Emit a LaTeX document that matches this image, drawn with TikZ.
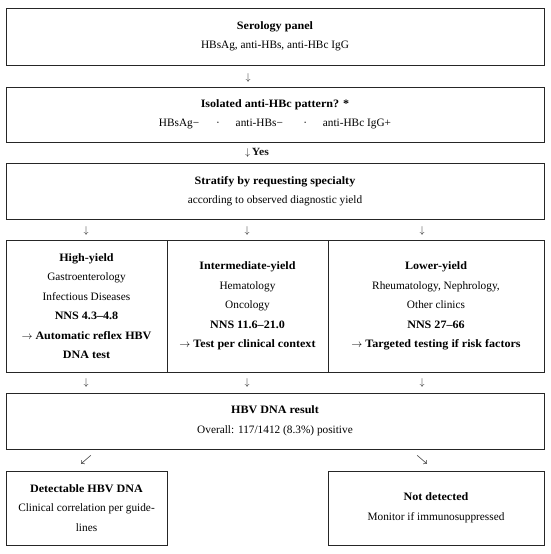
\documentclass[tikz,border=0pt]{standalone}
\usepackage{fontspec}
\setmainfont{Liberation Serif}[BoldFeatures={FakeStretch=1.07}]
\newcommand{\bsw}{\mbox{\boldmath$\swarrow$}}
\newcommand{\bse}{\mbox{\boldmath$\searrow$}}
\begin{document}
\begin{tikzpicture}[x=1pt,y=-1pt,
  box/.style={draw=black!85, line width=0.8pt, align=center, inner sep=0pt,
    font={\fontsize{11.3pt}{19.5pt}\selectfont}},
  glyph/.style={inner sep=0pt, text=black!90, font={\fontsize{10pt}{12pt}\selectfont}}]
\useasboundingbox[fill=white] (0,0) rectangle (550,554);
\node[box, minimum width=538pt, minimum height=57pt] (serol) at (275,36.5)
  {\textbf{Serology panel}\\HBsAg, anti-HBs, anti-HBc IgG};
\node[glyph] (a1) at (248,78) {$\downarrow$};
\node[box, minimum width=538pt, minimum height=55pt] (iso) at (275,114.5)
  {\textbf{Isolated anti-HBc pattern? *}\\HBsAg−\hspace{1.5em}·\hspace{1.4em}anti-HBs−\hspace{1.8em}·\hspace{1.4em}anti-HBc IgG+};
\node[glyph, anchor=west] (a2) at (245,153) {$\downarrow$\,\textbf{\fontsize{11pt}{12pt}\selectfont Yes}};
\node[box, minimum width=538pt, minimum height=56pt] (strat) at (275,191)
  {\textbf{Stratify by requesting specialty}\\according to observed diagnostic yield};
\node[glyph] (a3) at (86,231) {$\downarrow$};
\node[glyph] (a4) at (247,231) {$\downarrow$};
\node[glyph] (a5) at (422,231) {$\downarrow$};
\node[box, minimum width=161pt, minimum height=132pt] (high) at (86.5,306)
  {\textbf{High-yield}\\Gastroenterology\\Infectious Diseases\\\textbf{NNS 4.3–4.8}\\\textbf{$\rightarrow$ Automatic reflex HBV}\\\textbf{DNA test}};
\node[box, minimum width=161pt, minimum height=132pt] (inter) at (247.5,306)
  {\textbf{Intermediate-yield}\\Hematology\\Oncology\\\textbf{NNS 11.6–21.0}\\\textbf{$\rightarrow$ Test per clinical context}};
\node[box, minimum width=216pt, minimum height=132pt] (low) at (436,306)
  {\textbf{Lower-yield}\\Rheumatology, Nephrology,\\Other clinics\\\textbf{NNS 27–66}\\\textbf{$\rightarrow$ Targeted testing if risk factors}};
\node[glyph] (a6) at (86,383) {$\downarrow$};
\node[glyph] (a7) at (247,383) {$\downarrow$};
\node[glyph] (a8) at (422,383) {$\downarrow$};
\node[box, minimum width=538pt, minimum height=56pt] (dna) at (275,421)
  {\textbf{HBV DNA result}\\Overall: 117/1412 (8.3\%) positive};
\node[glyph] (a9) at (86,460) {\bsw};
\node[glyph] (a10) at (422,460) {\bse};
\node[box, minimum width=161pt, minimum height=74pt] (det) at (86.5,508)
  {\textbf{Detectable HBV DNA}\\Clinical correlation per guide-\\lines};
\node[box, minimum width=216pt, minimum height=74pt] (notd) at (436,508)
  {\textbf{Not detected}\\Monitor if immunosuppressed};
\end{tikzpicture}
\end{document}
